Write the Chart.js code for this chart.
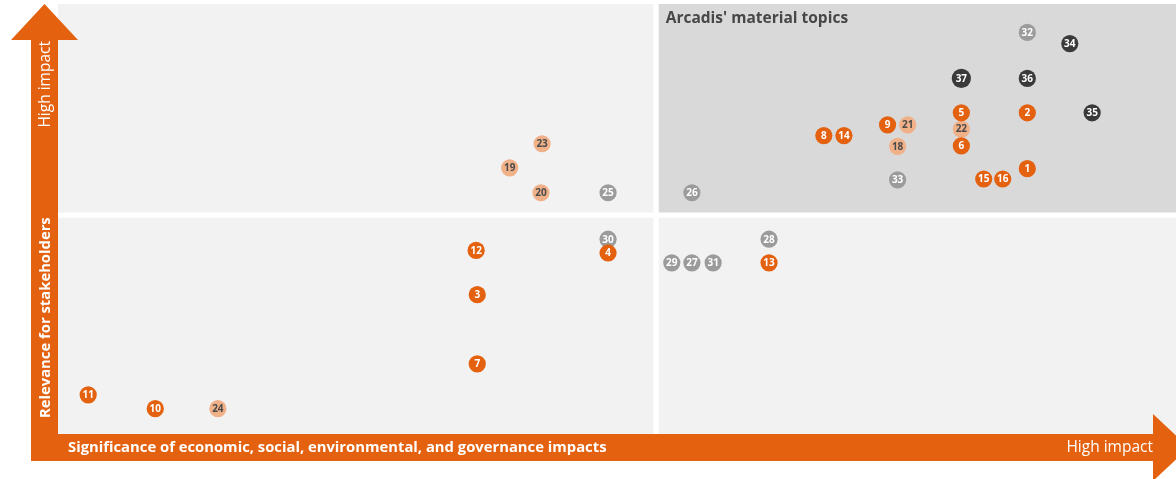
<!DOCTYPE html>
<html>
<head>
<meta charset="utf-8">
<script src="https://cdn.jsdelivr.net/npm/chart.js@4.4.1/dist/chart.umd.min.js"></script>
<style>
  html, body { margin: 0; padding: 0; background: #ffffff; }
  #wrap { width: 1176px; height: 479px; position: relative; }
</style>
</head>
<body>
<div id="wrap"><canvas id="matrix" width="1176" height="479"></canvas></div>
<script>
// Topic numbers and their scores (0-100 on both axes)
const topicIds   = [1, 2, 3, 4, 5, 6, 7, 8, 9, 10, 11, 12, 13, 14, 15, 16, 18, 19, 20, 21, 22, 23, 24, 25, 26, 27, 28, 29, 30, 31, 32, 33, 34, 35, 36, 37];
const impactX    = [86.7, 86.7, 37.5, 49.2, 80.8, 80.8, 37.5, 68.5, 74.2, 8.7, 2.7, 37.4, 63.6, 70.3, 82.8, 84.5, 75.1, 40.4, 43.2, 76.0, 80.8, 43.3, 14.3, 49.2, 56.7, 56.7, 63.6, 54.9, 49.2, 58.6, 86.7, 75.1, 90.5, 92.5, 86.7, 80.8];
const relevanceY = [61.7, 74.7, 32.4, 42.1, 74.7, 67.0, 16.3, 69.4, 71.9, 5.9, 9.1, 42.7, 39.8, 69.4, 59.3, 59.3, 66.9, 61.9, 56.1, 71.9, 70.9, 67.5, 5.9, 56.1, 56.1, 39.8, 45.3, 39.8, 45.3, 39.8, 93.4, 59.1, 90.8, 74.7, 82.7, 82.7];
// Topic category: 'core', 'secondary', 'neutral', 'governance'
const topicGroup = ['core', 'core', 'core', 'core', 'core', 'core', 'core', 'core', 'core', 'core', 'core', 'core', 'core', 'core', 'core', 'core',
                    'secondary', 'secondary', 'secondary', 'secondary', 'secondary', 'secondary', 'secondary',
                    'neutral', 'neutral', 'neutral', 'neutral', 'neutral', 'neutral', 'neutral', 'neutral', 'neutral',
                    'governance', 'governance', 'governance', 'governance'];

// Quadrant thresholds on each axis
const thresholdX = 53.5;
const thresholdY = 50.9;

const axisTitleX = 'Significance of economic, social, environmental, and governance impacts';
const axisTitleY = 'Relevance for stakeholders';
const highLabel  = 'High impact';
const materialTitle = "Arcadis' material topics";

const ORANGE = '#E3610F';
const groupStyle = {
  core:       { fill: ORANGE,    text: '#ffffff' },
  secondary:  { fill: '#F0B189', text: '#4a4a4a' },
  neutral:    { fill: '#9B9B9B', text: '#ffffff' },
  governance: { fill: '#3A3A3A', text: '#ffffff' }
};
const FONT = '"Open Sans", "Noto Sans", sans-serif';

const datasets = Object.keys(groupStyle).map(g => {
  const pts = [];
  topicIds.forEach((id, i) => {
    if (topicGroup[i] === g) pts.push({ x: impactX[i], y: relevanceY[i], id: id });
  });
  return {
    label: g,
    data: pts,
    backgroundColor: groupStyle[g].fill,
    borderWidth: 0,
    pointRadius: ctx => (ctx.raw && ctx.raw.id === 37 ? 9.6 : 8.6),
    pointHoverRadius: 8.6,
    clip: false,
    textColor: groupStyle[g].text
  };
});

// Quadrant panels plus the two orange axis arrows
const backdrop = {
  id: 'backdrop',
  beforeDraw(chart) {
    const { ctx, chartArea: a, scales } = chart;
    const gx = scales.x.getPixelForValue(thresholdX);
    const gy = scales.y.getPixelForValue(thresholdY);
    const gap = 2.6;
    ctx.save();
    ctx.fillStyle = '#F2F2F2';
    ctx.fillRect(a.left, a.top, gx - gap - a.left, gy - gap - a.top);
    ctx.fillRect(a.left, gy + gap, gx - gap - a.left, a.bottom - gy - gap);
    ctx.fillRect(gx + gap, gy + gap, a.right - gx - gap, a.bottom - gy - gap);
    ctx.fillStyle = '#D9D9D9';
    ctx.fillRect(gx + gap, a.top, a.right - gx - gap, gy - gap - a.top);

    // arrows
    const w = 27;
    const l = a.left - w;
    const b = a.bottom + w;
    ctx.fillStyle = ORANGE;
    // vertical shaft + head
    ctx.fillRect(l, 40, w, b - 40);
    ctx.beginPath();
    ctx.moveTo(l + w / 2, a.top);
    ctx.lineTo(l + w / 2 + 33.5, 40);
    ctx.lineTo(l + w / 2 - 33.5, 40);
    ctx.closePath();
    ctx.fill();
    // horizontal shaft + head
    const headX = 1153;
    ctx.fillRect(l, a.bottom, headX - l, w);
    const cy = a.bottom + w / 2;
    ctx.beginPath();
    ctx.moveTo(headX, cy - 33.5);
    ctx.lineTo(headX + 36, cy);
    ctx.lineTo(headX, cy + 33.5);
    ctx.closePath();
    ctx.fill();

    // arrow texts
    ctx.fillStyle = '#ffffff';
    ctx.textBaseline = 'middle';
    ctx.font = 'bold 14.8px ' + FONT;
    ctx.textAlign = 'left';
    ctx.fillText(axisTitleX, a.left + 10, cy + 0.5);
    ctx.font = '15.5px ' + FONT;
    ctx.textAlign = 'right';
    ctx.fillText(highLabel, headX, cy + 0.5);

    ctx.save();
    ctx.translate(l + w / 2 + 1, 41);
    ctx.rotate(-Math.PI / 2);
    ctx.textAlign = 'right';
    ctx.font = '15.5px ' + FONT;
    ctx.fillText(highLabel, 0, 0);
    ctx.restore();

    ctx.save();
    ctx.translate(l + w / 2 + 1, 418);
    ctx.rotate(-Math.PI / 2);
    ctx.textAlign = 'left';
    ctx.font = 'bold 14.8px ' + FONT;
    ctx.fillText(axisTitleY, 0, 0);
    ctx.restore();

    // material quadrant title
    ctx.fillStyle = '#474747';
    ctx.textAlign = 'left';
    ctx.font = 'bold 15.5px ' + FONT;
    ctx.fillText(materialTitle, gx + gap + 7, a.top + 14.5);
    ctx.restore();
  }
};

// Topic numbers inside each circle
const topicNumbers = {
  id: 'topicNumbers',
  afterDatasetsDraw(chart) {
    const { ctx } = chart;
    ctx.save();
    ctx.font = 'bold 10px ' + FONT;
    ctx.textAlign = 'center';
    ctx.textBaseline = 'middle';
    chart.data.datasets.forEach((ds, di) => {
      const meta = chart.getDatasetMeta(di);
      meta.data.forEach((el, i) => {
        ctx.fillStyle = ds.textColor;
        ctx.fillText(String(ds.data[i].id), el.x, el.y + 0.5);
      });
    });
    ctx.restore();
  }
};

new Chart(document.getElementById('matrix'), {
  type: 'scatter',
  data: { datasets },
  options: {
    responsive: false,
    devicePixelRatio: 1,
    animation: false,
    layout: { autoPadding: false, padding: { left: 58, right: 0, top: 4, bottom: 45 } },
    scales: {
      x: { type: 'linear', min: 0, max: 100, display: false },
      y: { type: 'linear', min: 0, max: 100, display: false }
    },
    plugins: {
      legend: { display: false },
      tooltip: { enabled: false }
    },
    events: []
  },
  plugins: [backdrop, topicNumbers]
});
</script>
</body>
</html>
